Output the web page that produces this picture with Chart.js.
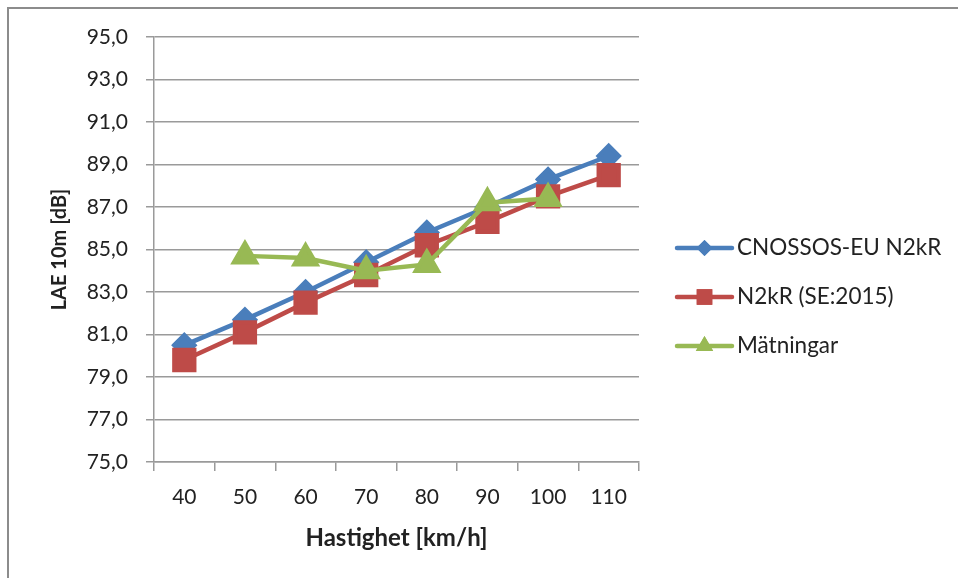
<!DOCTYPE html>
<html>
<head>
<meta charset="utf-8">
<script src="https://cdn.jsdelivr.net/npm/chart.js@4"></script>
<style>
  html, body { margin: 0; padding: 0; background: #fff; }
  #wrap { width: 958px; height: 578px; }
</style>
</head>
<body>
<div id="wrap"><canvas id="chart"></canvas></div>
<script>
const categories = ['40', '50', '60', '70', '80', '90', '100', '110'];
const cnossos = [80.5, 81.7, 83.0, 84.4, 85.8, 87.0, 88.3, 89.4];
const n2kr = [79.8, 81.1, 82.5, 83.8, 85.2, 86.3, 87.5, 88.5];
const matningar = [null, 84.7, 84.6, 84.0, 84.3, 87.2, 87.4, null];
const seriesNames = ['CNOSSOS-EU N2kR', 'N2kR (SE:2015)', 'Mätningar'];

const FONT = 'Lato, "Open Sans", sans-serif';
const GRID = '#9a9a9a';

// outer frame (only top and left edges are visible in the picture)
const framePlugin = {
  id: 'frame',
  beforeDraw(chart) {
    const ctx = chart.ctx;
    ctx.save();
    ctx.fillStyle = '#fff';
    ctx.fillRect(0, 0, chart.width, chart.height);
    ctx.strokeStyle = '#8c8c8c';
    ctx.lineWidth = 2;
    ctx.beginPath();
    ctx.moveTo(8, chart.height);
    ctx.lineTo(8, 8);
    ctx.lineTo(chart.width, 8);
    ctx.stroke();
    ctx.restore();
  }
};

// legend drawn as line + marker + text, like the spreadsheet legend
const legendPlugin = {
  id: 'sideLegend',
  afterDraw(chart) {
    const ctx = chart.ctx;
    const x0 = chart.chartArea.right + 38;
    const sizes = {rectRot: 8, rect: 11, triangle: 10};
    ctx.save();
    chart.data.datasets.forEach((ds, i) => {
      const y = 248 + i * 49;
      ctx.strokeStyle = ds.borderColor;
      ctx.lineWidth = 4.5;
      ctx.lineCap = 'round';
      ctx.beginPath();
      ctx.moveTo(x0, y);
      ctx.lineTo(x0 + 55, y);
      ctx.stroke();
      ctx.fillStyle = ds.borderColor;
      ctx.beginPath();
      const r = sizes[ds.pointStyle];
      Chart.helpers.drawPoint(ctx, {pointStyle: ds.pointStyle, radius: r, rotation: 0, borderWidth: 0}, x0 + 27.5, y);
      ctx.fill();
      ctx.fillStyle = '#222';
      ctx.font = '22.5px ' + FONT;
      ctx.textBaseline = 'middle';
      ctx.textAlign = 'left';
      ctx.fillText(ds.label, x0 + 60, y);
    });
    ctx.restore();
  }
};

const ctx = document.getElementById('chart').getContext('2d');
new Chart(ctx, {
  type: 'line',
  data: {
    labels: categories,
    datasets: [
      {
        label: seriesNames[0], data: cnossos, order: 3,
        borderColor: '#4a7ebb', backgroundColor: '#4a7ebb',
        borderWidth: 4.5, pointStyle: 'rectRot', pointRadius: 10, pointHoverRadius: 10
      },
      {
        label: seriesNames[1], data: n2kr, order: 2,
        borderColor: '#be4b48', backgroundColor: '#be4b48',
        borderWidth: 4.5, pointStyle: 'rect', pointRadius: 14, pointHoverRadius: 14
      },
      {
        label: seriesNames[2], data: matningar, order: 1,
        borderColor: '#98b954', backgroundColor: '#98b954',
        borderWidth: 4.5, pointStyle: 'triangle', pointRadius: 12.5, pointHoverRadius: 12.5
      }
    ]
  },
  options: {
    responsive: true,
    maintainAspectRatio: false,
    animation: false,
    layout: { padding: { left: 0, top: 37, right: 319, bottom: 0 } },
    elements: { line: { tension: 0 } },
    plugins: {
      legend: { display: false },
      tooltip: { enabled: false }
    },
    scales: {
      x: {
        offset: true,
        grid: { offset: true, drawOnChartArea: false, drawTicks: true, tickLength: 9, color: GRID, lineWidth: 1.5 },
        border: { color: GRID, width: 1.5 },
        ticks: { color: '#222', font: { family: FONT, size: 21 }, padding: 14, maxRotation: 0 },
        title: { display: true, text: 'Hastighet [km/h]', color: '#222', font: { family: FONT, size: 24, weight: 'bold' }, padding: { top: 0, bottom: 25 } },
        afterFit(scale) { scale.height = 116; }
      },
      y: {
        min: 75, max: 95,
        grid: { color: GRID, lineWidth: 1.5, tickLength: 8 },
        border: { color: GRID, width: 1.5 },
        ticks: {
          stepSize: 2, color: '#222', font: { family: FONT, size: 21 }, padding: 18,
          callback: v => v.toFixed(1).replace('.', ',')
        },
        title: { display: true, text: 'LAE 10m [dB]', color: '#222', font: { family: FONT, size: 20, weight: 'bold' }, padding: { top: 48, bottom: 0 } },
        afterFit(scale) { scale.width = 154; }
      }
    }
  },
  plugins: [framePlugin, legendPlugin]
});
</script>
</body>
</html>
